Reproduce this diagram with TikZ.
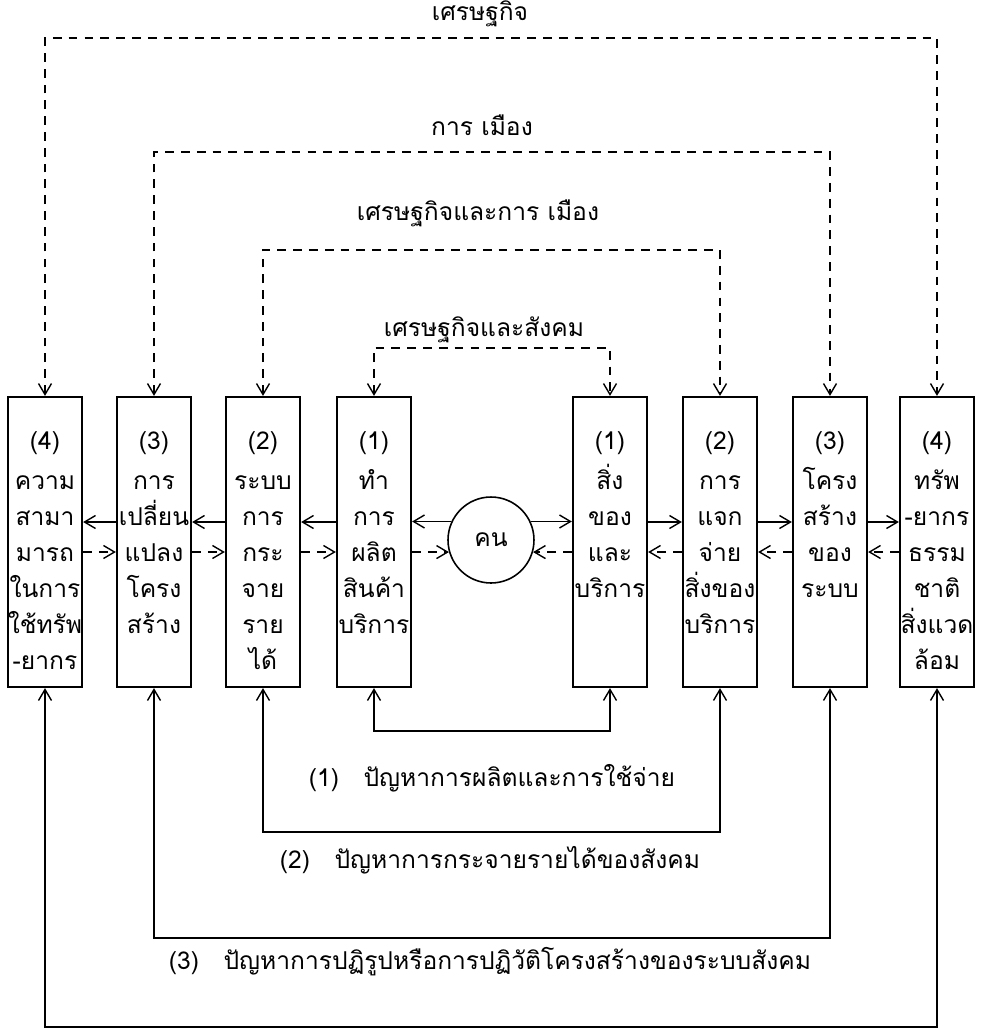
\documentclass[tikz,border=0pt]{standalone}
\usepackage{fontspec}
\newfontfamily\thaifont[Script=Thai]{Loma}
\usetikzlibrary{arrows.meta,positioning}

\begin{document}
\begin{tikzpicture}[
  x=0.02cm, y=-0.02cm,
  font=\thaifont\fontsize{14}{20.5}\selectfont,
  >={Straight Barb[length=2.2mm,width=2.6mm]},
  % tall column box
  blk/.style={draw, line width=1.3pt, minimum width=1.48cm,
              minimum height=5.8cm, inner sep=0pt},
  % text set in a box, hung from its top
  txt/.style={anchor=north, align=center, inner sep=0pt},
  % the person circle
  ppl/.style={circle, draw, line width=0.9pt, minimum size=1.72cm, inner sep=0pt},
  % arrows
  arr/.style={draw, line width=0.8pt},
  arrD/.style={draw, line width=0.8pt, dash pattern=on 5pt off 4pt},
  lbl/.style={inner sep=1pt},
]
\useasboundingbox (0,0) rectangle (982,1032);

%% ── Column boxes (left: 4..1, right: 1..4) ──────────────────────────────
\node[blk] (L4) at (45,542)  {};
\node[blk] (L3) at (154,542) {};
\node[blk] (L2) at (263,542) {};
\node[blk] (L1) at (374,542) {};
\node[blk] (R1) at (610,542) {};
\node[blk] (R2) at (720,542) {};
\node[blk] (R3) at (830,542) {};
\node[blk] (R4) at (937,542) {};

\node[txt] (L4t) at ([yshift=-0.7cm]L4.north) {(4)\\[2.3pt]ความ\\สามา\\มารถ\\ในการ\\ใช้ทรัพ\\-ยากร};
\node[txt] (L3t) at ([yshift=-0.7cm]L3.north) {(3)\\[2.3pt]การ\\เปลี่ยน\\แปลง\\โครง\\สร้าง};
\node[txt] (L2t) at ([yshift=-0.7cm]L2.north) {(2)\\[2.3pt]ระบบ\\การ\\กระ\\จาย\\ราย\\ได้};
\node[txt] (L1t) at ([yshift=-0.7cm]L1.north) {(1)\\[2.3pt]ทำ\\การ\\ผลิต\\สินค้า\\บริการ};
\node[txt] (R1t) at ([yshift=-0.7cm]R1.north) {(1)\\[2.3pt]สิ่ง\\ของ\\และ\\บริการ};
\node[txt] (R2t) at ([yshift=-0.7cm]R2.north) {(2)\\[2.3pt]การ\\แจก\\จ่าย\\สิ่งของ\\บริการ};
\node[txt] (R3t) at ([yshift=-0.7cm]R3.north) {(3)\\[2.3pt]โครง\\สร้าง\\ของ\\ระบบ};
\node[txt] (R4t) at ([yshift=-0.7cm]R4.north) {(4)\\[2.3pt]ทรัพ\\-ยากร\\ธรรม\\ชาติ\\สิ่งแวด\\ล้อม};

\node[ppl] (C) at (491,540) {คน};

%% ── Flows out of / back to the centre ───────────────────────────────────
\draw[arr,->]  (C.155) -- (C.155 -| L1.east);
\draw[arrD,->] (C.196 -| L1.east) -- (C.196);
\draw[arr,->]  (C.25) -- (C.25 -| R1.west);
\draw[arrD,->] (C.-16 -| R1.west) -- (C.-16);

\foreach \a/\b in {L1/L2,L2/L3,L3/L4}{
  \draw[arr,->]  ([yshift=0.4cm]\a.west) -- ([yshift=0.4cm]\b.east);
  \draw[arrD,->] ([yshift=-0.2cm]\b.east) -- ([yshift=-0.2cm]\a.west);
}
\foreach \a/\b in {R1/R2,R2/R3,R3/R4}{
  \draw[arr,->]  ([yshift=0.4cm]\a.east) -- ([yshift=0.4cm]\b.west);
  \draw[arrD,->] ([yshift=-0.2cm]\b.west) -- ([yshift=-0.2cm]\a.east);
}

%% ── Dashed links on top ─────────────────────────────────────────────────
\coordinate (k1) at (492,348);
\coordinate (k2) at (492,250);
\coordinate (k3) at (492,152);
\coordinate (k4) at (492,38);
\draw[arrD,<->] (L1.north) |- (k1) -| (R1.north);
\draw[arrD,<->] (L2.north) |- (k2) -| (R2.north);
\draw[arrD,<->] (L3.north) |- (k3) -| (R3.north);
\draw[arrD,<->] (L4.north) |- (k4) -| (R4.north);

\node[lbl] (t1) at (484,330) {เศรษฐกิจและสังคม};
\node[lbl] (t2) at (478,213) {เศรษฐกิจและการ เมือง};
\node[lbl] (t3) at (482,125) {การ เมือง};
\node[lbl] (t4) at (480,14)  {เศรษฐกิจ};

%% ── Solid links below ───────────────────────────────────────────────────
\coordinate (b1) at (492,731);
\coordinate (b2) at (492,832);
\coordinate (b3) at (492,938);
\coordinate (b4) at (492,1027);
\draw[arr,<->] (L1.south) |- (b1) -| (R1.south);
\draw[arr,<->] (L2.south) |- (b2) -| (R2.south);
\draw[arr,<->] (L3.south) |- (b3) -| (R3.south);
\draw[arr,<->] (L4.south) |- (b4) -| (R4.south);

\node[lbl] (p1) at (492,778) {(1)\quad ปัญหาการผลิตและการใช้จ่าย};
\node[lbl] (p2) at (490,860) {(2)\quad ปัญหาการกระจายรายได้ของสังคม};
\node[lbl] (p3) at (490,962) {(3)\quad ปัญหาการปฏิรูปหรือการปฏิวัติโครงสร้างของระบบสังคม};

\end{tikzpicture}
\end{document}
